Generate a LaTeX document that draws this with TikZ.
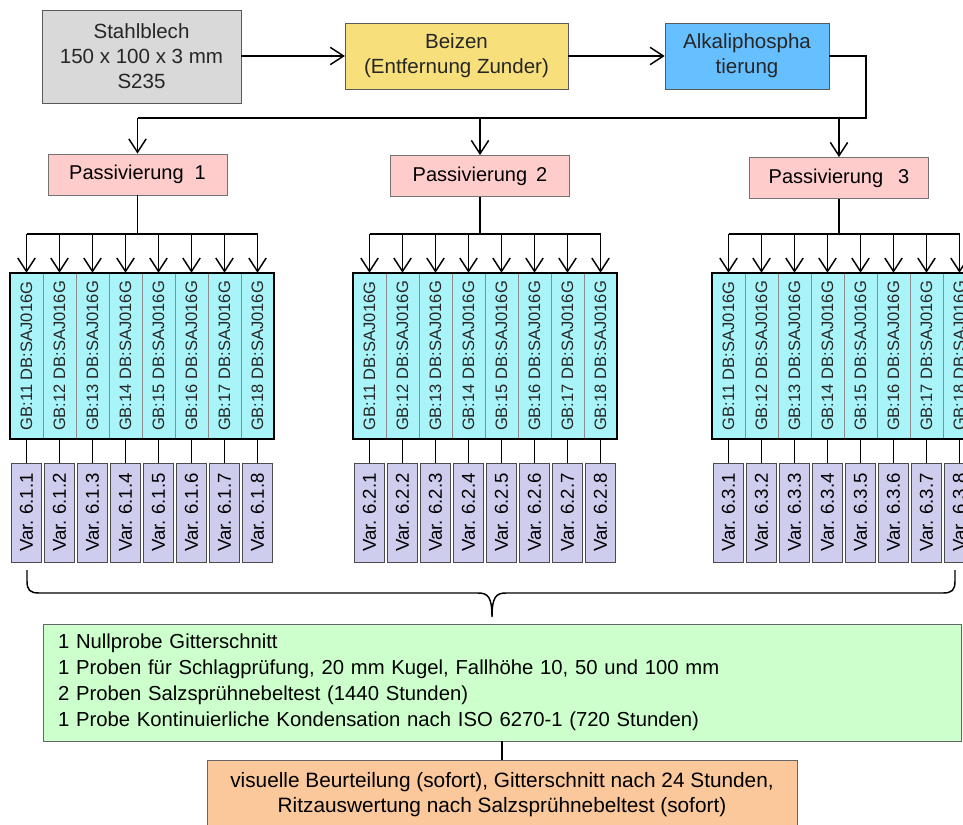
\documentclass[tikz,border=0pt]{standalone}
\usepackage{fontspec}
\setmainfont{Liberation Sans}
\usepackage{graphicx}
\usetikzlibrary{arrows.meta, positioning, calc}
\definecolor{grau}{HTML}{D9D9D9}
\definecolor{gelb}{HTML}{F7E07B}
\definecolor{blau}{HTML}{66BFFF}
\definecolor{rosa}{HTML}{FFCCCC}
\definecolor{tuerkis}{HTML}{A9F4F9}
\definecolor{lila}{HTML}{CFCDED}
\definecolor{gruen}{HTML}{CCFFCC}
\definecolor{apricot}{HTML}{FAC89B}
\tikzset{
  box/.style={draw=black!65, fill=#1, align=center, inner sep=0pt, text=black!85,
    font=\fontsize{15.4}{18.75}\selectfont},
  pass/.style={draw=black!55, fill=rosa, minimum width=134pt, minimum height=31pt, inner sep=0pt,
    font=\fontsize{15}{18}\selectfont},
  gbcol/.style={draw=black!45, fill=tuerkis, minimum width=24.75pt, minimum height=124.5pt, inner sep=0pt,
    text=black!85, font=\fontsize{12.4}{14}\selectfont},
  var/.style={draw=black!70, fill=lila, minimum width=22.5pt, minimum height=74.25pt, inner sep=0pt,
    font=\fontsize{14}{16}\selectfont},
  note/.style={draw=black!60, fill=gruen, minimum height=87.75pt, text width=666pt, inner xsep=11.25pt,
    align=left, font=\fontsize{15.2}{19.5}\selectfont},
  result/.style={draw=black!60, fill=apricot, minimum width=442.5pt, minimum height=51pt, align=center,
    font=\fontsize{15.6}{18.75}\selectfont},
  arr/.style={-{Straight Barb[length=10pt, width=13pt]}, line width=1.1pt},
  lin/.style={line width=1.2pt},
}

\begin{document}
\begin{tikzpicture}[x=0.75pt, y=-0.75pt]
  \useasboundingbox (0,0) rectangle (963,824);
  \clip (0,0) rectangle (963,824);

  \node[box=grau, minimum width=149pt, minimum height=70pt] (blech) at (141.5,56.5)
    {Stahlblech\\150 x 100 x 3 mm\\S235};
  \node[box=gelb, minimum width=167pt, minimum height=49.5pt] (beiz) at (456.5,56)
    {Beizen\\(Entfernung Zunder)};
  \node[box=blau, minimum width=123pt, minimum height=49.5pt] (alk) at (747,56)
    {Alkaliphospha\\tierung};
  \draw[arr] (blech.east |- beiz.west) -- (beiz.west);
  \draw[arr] (beiz.east) -- (alk.west);

  \node[pass] (p1) at (137.5,174.5) {Passivierung\hspace{0.55em}1};
  \node[pass] (p2) at (480,176) {Passivierung\hspace{0.45em}2};
  \node[pass] (p3) at (839,178) {Passivierung\hspace{0.75em}3};

  \coordinate (knick) at (866,118);
  \draw[lin] (alk.east) -| (knick) -- (p1.north |- knick);
  \foreach \p in {p1,p2,p3}
    \draw[arr] (\p.north |- knick) -- (\p.north);

  % Probenbloecke je Passivierung
  \foreach \k/\x/\p in {1/10/p1, 2/353/p2, 3/712/p3} {
    \coordinate (bar\k) at (\x,234);
    \draw[lin] (\p.south) -- (\p.south |- bar\k);
    \foreach \i in {1,...,8} {
      \node[gbcol] (gb\k\i) at ({\x+33*\i-16.5},356) {\rotatebox{90}{GB:1\i\ DB:SAJ016G}};
      \node[var] (v\k\i) at ({\x+33*\i-16.5},512.5) {\rotatebox{90}{Var.\ 6.\k.\i}};
      \draw[line width=1pt] (gb\k\i.south) -- (v\k\i.north);
      \draw[arr] (gb\k\i.north |- bar\k) -- (gb\k\i.north);
    }
    \draw[lin] (gb\k1.north |- bar\k) -- (gb\k8.north |- bar\k);
    \draw[line width=1.5pt] (gb\k1.north west) rectangle (gb\k8.south east);
  }

  \draw[line width=1.1pt] (27,570) -- (27,581) .. controls (27,590) and (30,593) .. (39,593)
    -- (478,593) .. controls (488,593) and (492,597) .. (492,617)
    .. controls (492,597) and (496,593) .. (506,593) -- (943,593)
    .. controls (952,593) and (955,590) .. (955,581) -- (955,570);

  \node[note] (proben) at (502,682.5)
    {1 Nullprobe Gitterschnitt\\
     1 Proben für Schlagprüfung, 20 mm Kugel, Fallhöhe 10, 50 und 100 mm\\
     2 Proben Salzsprühnebeltest (1440 Stunden)\\
     1 Probe Kontinuierliche Kondensation nach ISO 6270-1 (720 Stunden)};
  \node[result, anchor=north] (auswert) at (502,760)
    {visuelle Beurteilung (sofort), Gitterschnitt nach 24 Stunden,\\
     Ritzauswertung nach Salzsprühnebeltest (sofort)};
  \draw[line width=1pt] (proben.south -| auswert.north) -- (auswert.north);
\end{tikzpicture}
\end{document}
